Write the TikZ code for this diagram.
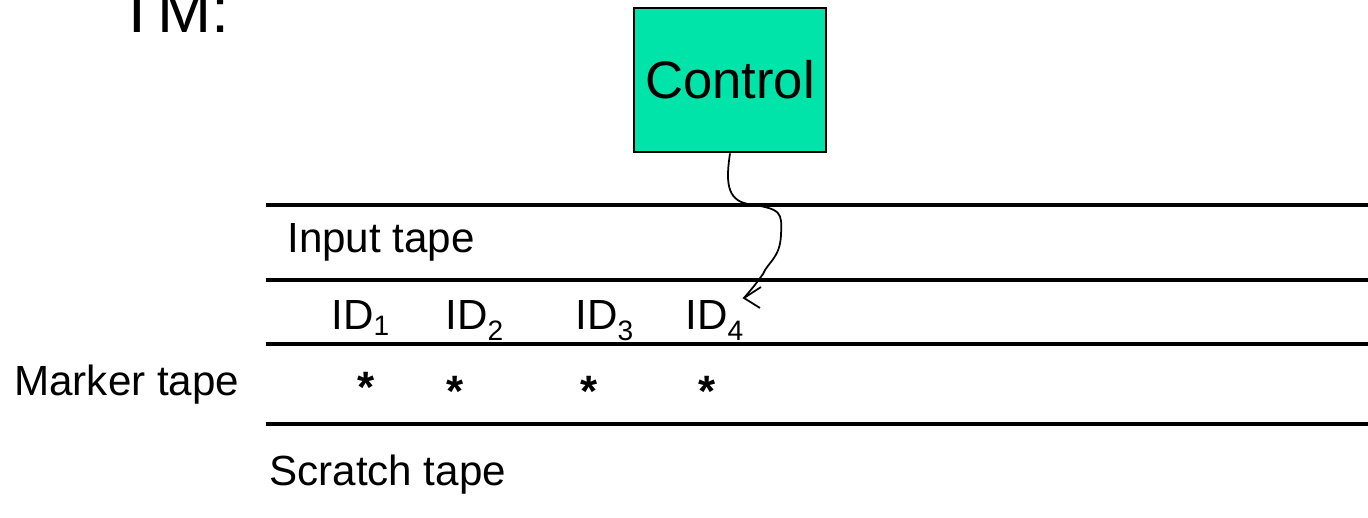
\documentclass[tikz,border=0pt]{standalone}
\usepackage{fontspec}
\setmainfont{Liberation Sans}
\definecolor{ctrlgreen}{RGB}{0,228,170}
\newcommand\idlab[2]{ID\raisebox{-#2}{\fontsize{16}{19}\selectfont #1}}
\begin{document}
\begin{tikzpicture}[x=0.02cm,y=-0.02cm,
  tapeline/.style={line width=1.9pt},
  lbl/.style={inner sep=0pt, anchor=base west, font=\fontsize{24}{28}\selectfont},
  starlbl/.style={inner sep=0pt, anchor=base, font=\fontsize{25}{28}\selectfont\bfseries},
  ctrlbox/.style={draw, line width=1.6pt, fill=ctrlgreen, minimum width=3.84cm, minimum height=2.88cm, inner sep=0pt, font=\fontsize{30}{36}\selectfont},
  curve/.style={line width=1pt}]
\useasboundingbox (0,0) rectangle (1368,517);
% title
\node[inner sep=0pt, anchor=base west, font=\fontsize{37}{44}\selectfont] (title) at (117,33) {TM:};
% control
\node[ctrlbox] (ctrl) at (730,80) {Control};
% tapes
\draw[tapeline] (266,205) coordinate (l1a) -- (1368,205) coordinate (l1b);
\draw[tapeline] (266,280) coordinate (l2a) -- (1368,280) coordinate (l2b);
\draw[tapeline] (266,344) coordinate (l3a) -- (1368,344) coordinate (l3b);
\draw[tapeline] (266,424) coordinate (l4a) -- (1368,424) coordinate (l4b);
% labels
\node[lbl] (input) at (287,252) {Input tape};
\node[lbl] (marker) at (14,395) {Marker tape};
\node[lbl] (scratch) at (269,485) {Scratch tape};
\node[lbl] (id1) at (331,329) {\idlab{1}{3.7pt}};
\node[lbl] (id2) at (445,329) {\idlab{2}{6.8pt}};
\node[lbl] (id3) at (575,329) {\idlab{3}{6.8pt}};
\node[lbl] (id4) at (685,329) {\idlab{4}{6.8pt}};
% markers
\node[starlbl] (s1) at (366,402) {*};
\node[starlbl] (s2) at (455,406) {*};
\node[starlbl] (s3) at (589,406) {*};
\node[starlbl] (s4) at (707,406) {*};
% head connector
\coordinate (tip) at (744,298);
\draw[curve] (ctrl.south) .. controls (726,180) and (726,200) .. (748,204)
  .. controls (782,209) and (782,212) .. (781,235)
  .. controls (780,258) and (768,262) .. (763,274)
  .. controls (755,285) .. (tip);
\draw[curve] (tip) ++(17,-11) -- (tip) -- ++(16,10);
\end{tikzpicture}
\end{document}
